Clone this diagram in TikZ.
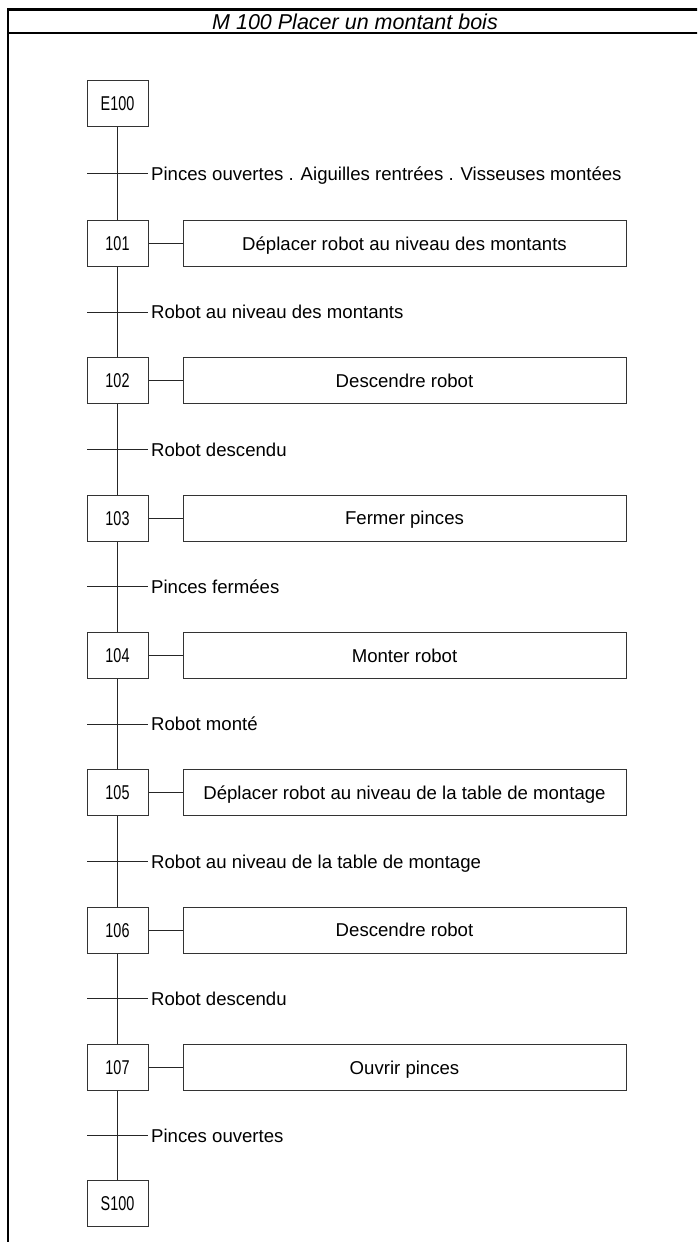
\documentclass[tikz,border=0pt]{standalone}
\usepackage{fontspec}
\setmainfont{Liberation Sans}
\newfontfamily\stepfont[FakeStretch=0.72]{Liberation Sans}
\begin{document}
\begin{tikzpicture}[x=1pt,y=-1pt,
  stepbox/.style={draw=black!80,line width=1pt,minimum width=61pt,minimum height=46pt,inner sep=0pt,text height=14.3pt,text depth=0pt,font=\stepfont\fontsize{20}{22}\selectfont},
  actbox/.style={draw=black!80,line width=1pt,minimum width=443pt,minimum height=46pt,inner sep=0pt,text height=13.3pt,text depth=0pt,font=\fontsize{18.6}{20}\selectfont},
  cond/.style={anchor=west,inner xsep=3pt,inner ysep=0pt,text height=13.3pt,text depth=0pt,font=\fontsize{18.6}{20}\selectfont},
  link/.style={draw=black!85,line width=1pt},
  frame/.style={draw=black,line width=2.3pt}]
\useasboundingbox (0,0) rectangle (697,1242);
\fill[white] (0,0) rectangle (697,1242);
\clip (0,0) rectangle (697,1242);
\draw[frame] (8,1260) -- (8,9.5) -- (710,9.5);
\draw[frame] (8,33) -- (710,33);
\node[font=\itshape\fontsize{21.5}{24}\selectfont,inner sep=0pt,text height=15pt,text depth=0pt] (title) at (355,21.5) {M 100 Placer un montant bois};
\node[stepbox] (s0) at (117.5,103.5) {E100};
\foreach \k/\act in {1/Déplacer robot au niveau des montants, 2/Descendre robot, 3/Fermer pinces, 4/Monter robot, 5/Déplacer robot au niveau de la table de montage, 6/Descendre robot, 7/Ouvrir pinces} {
  \pgfmathsetmacro\yy{243.5+(\k-1)*137.33}
  \node[stepbox] (s\k) at (117.5,\yy) {10\k};
  \node[actbox] (a\k) at (404.5,\yy) {\act};
  \draw[link] (s\k) -- (a\k);
}
\node[stepbox] (s8) at (117.5,1203.5) {S100};
\foreach \k/\cnd in {0/Pinces ouvertes . Aiguilles rentrées . Visseuses montées, 1/Robot au niveau des montants, 2/Robot descendu, 3/Pinces fermées, 4/Robot monté, 5/Robot au niveau de la table de montage, 6/Robot descendu, 7/Pinces ouvertes} {
  \pgfmathtruncatemacro\n{\k+1}
  \draw[link] (s\k) -- (s\n);
  \path (s\k.south) -- (s\n.north) coordinate[pos=0.5] (m\k);
  \coordinate (tb\k) at ([xshift=-30.5pt]m\k);
  \node[cond] (c\k) at ([xshift=30.5pt]m\k) {\cnd};
  \draw[link] (tb\k) -- (c\k.west);
}
\end{tikzpicture}
\end{document}
